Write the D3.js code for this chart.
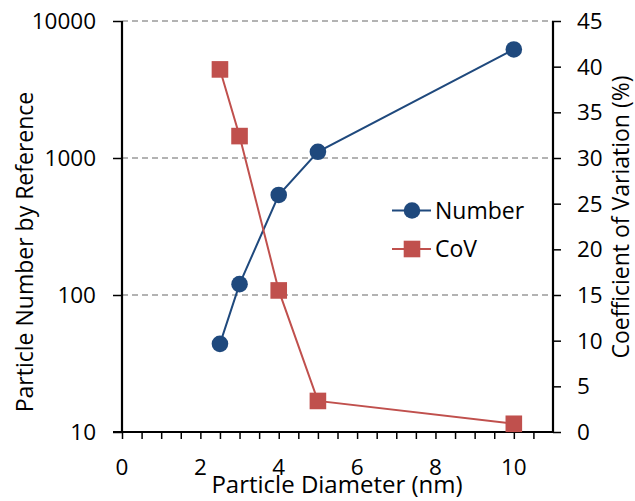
<!DOCTYPE html>
<html>
<head>
<meta charset="utf-8">
<script src="https://cdn.jsdelivr.net/npm/d3@7"></script>
<style>
  html, body { margin: 0; padding: 0; background: #fff; }
  svg { display: block; }
  text { font-family: "Open Sans", "Noto Sans", sans-serif; fill: #000; }
</style>
</head>
<body>
<svg id="chart" width="635" height="501"></svg>
<script>
// ---- data ----
const diameters = [2.5, 3, 4, 5, 10];
const numberValues = [44, 120, 537, 1110, 6200];
const covValues = [39.7, 32.4, 15.5, 3.4, 0.9];
const xTickValues = [0, 2, 4, 6, 8, 10];
const yLeftTickValues = [10, 100, 1000, 10000];
const yRightTickValues = [0, 5, 10, 15, 20, 25, 30, 35, 40, 45];
const seriesNames = ["Number", "CoV"];
const xTitle = "Particle Diameter (nm)";
const yLeftTitle = "Particle Number by Reference";
const yRightTitle = "Coefficient of Variation (%)";

(function () {
// ---- layout ----
const pLeft = 122, pRight = 553, pTop = 21, pBottom = 432;
const blue = "#1F497D", red = "#C0504D";

const svg = d3.select("#chart");
const x = d3.scaleLinear().domain([0, 11]).range([pLeft, pRight]);
const yL = d3.scaleLog().domain([10, 10000]).range([pBottom, pTop]);
const yR = d3.scaleLinear().domain([0, 45]).range([pBottom, pTop]);

// gridlines
svg.append("g").selectAll("line")
  .data(yLeftTickValues.filter(v => v > 10))
  .join("line")
  .attr("x1", pLeft).attr("x2", pRight)
  .attr("y1", d => yL(d)).attr("y2", d => yL(d))
  .attr("stroke", "#9a9a9a").attr("stroke-width", 1.5)
  .attr("stroke-dasharray", "6,4");

// x axis minor ticks
const minorX = d3.range(0, 10.51, 0.5);
const xAxis = svg.append("g").attr("transform", `translate(0,${pBottom})`)
  .call(d3.axisBottom(x).tickValues(minorX).tickSize(7).tickFormat(""));
xAxis.select(".domain").remove();
xAxis.selectAll(".tick line").attr("stroke", "#000").attr("stroke-width", 1.5);
svg.append("g").selectAll("text").data(xTickValues).join("text")
  .attr("x", d => x(d)).attr("y", 475)
  .attr("text-anchor", "middle").attr("font-size", 22.5)
  .text(d => d);

// left axis
const yLAxis = svg.append("g").attr("transform", `translate(${pLeft},0)`)
  .call(d3.axisLeft(yL).tickValues(yLeftTickValues).tickSize(9).tickFormat(""));
yLAxis.select(".domain").remove();
yLAxis.selectAll(".tick line").attr("stroke", "#000").attr("stroke-width", 1.5);
svg.append("g").selectAll("text").data(yLeftTickValues).join("text")
  .attr("x", 96).attr("y", d => yL(d)).attr("dy", "0.36em")
  .attr("text-anchor", "end").attr("font-size", 22.5)
  .text(d => d);

// right axis
const yRAxis = svg.append("g").attr("transform", `translate(${pRight},0)`)
  .call(d3.axisRight(yR).tickValues(yRightTickValues).tickSize(8).tickFormat(""));
yRAxis.select(".domain").remove();
yRAxis.selectAll(".tick line").attr("stroke", "#000").attr("stroke-width", 1.5);
svg.append("g").selectAll("text").data(yRightTickValues).join("text")
  .attr("x", 577).attr("y", d => yR(d)).attr("dy", "0.36em")
  .attr("text-anchor", "start").attr("font-size", 22.5)
  .text(d => d);

// axis lines
svg.append("line").attr("x1", pLeft).attr("x2", pLeft).attr("y1", pTop).attr("y2", pBottom)
  .attr("stroke", "#000").attr("stroke-width", 2.2);
svg.append("line").attr("x1", pRight).attr("x2", pRight).attr("y1", pTop).attr("y2", pBottom)
  .attr("stroke", "#000").attr("stroke-width", 2.2);
svg.append("line").attr("x1", pLeft - 9).attr("x2", pRight).attr("y1", pBottom).attr("y2", pBottom)
  .attr("stroke", "#000").attr("stroke-width", 2.2);

// titles
svg.append("text").attr("x", 337).attr("y", 493).attr("text-anchor", "middle")
  .attr("font-size", 24).text(xTitle);
svg.append("text").attr("transform", "translate(33,252) rotate(-90)")
  .attr("text-anchor", "middle").attr("font-size", 23).text(yLeftTitle);
svg.append("text").attr("transform", "translate(629,217) rotate(-90)")
  .attr("text-anchor", "middle").attr("font-size", 23).text(yRightTitle);

// series
const numData = diameters.map((d, i) => ({ x: d, y: numberValues[i] }));
const covData = diameters.map((d, i) => ({ x: d, y: covValues[i] }));

svg.append("path").datum(numData)
  .attr("fill", "none").attr("stroke", blue).attr("stroke-width", 2)
  .attr("d", d3.line().x(d => x(d.x)).y(d => yL(d.y)));
svg.append("g").selectAll("circle").data(numData).join("circle")
  .attr("cx", d => x(d.x)).attr("cy", d => yL(d.y)).attr("r", 8.3)
  .attr("fill", blue);

svg.append("path").datum(covData)
  .attr("fill", "none").attr("stroke", red).attr("stroke-width", 2)
  .attr("d", d3.line().x(d => x(d.x)).y(d => yR(d.y)));
svg.append("g").selectAll("rect").data(covData).join("rect")
  .attr("x", d => x(d.x) - 8.3).attr("y", d => yR(d.y) - 8.3)
  .attr("width", 16.6).attr("height", 16.6)
  .attr("fill", red);

// legend
const legendRows = [
  { name: seriesNames[0], color: blue, shape: "circle", y: 210.5 },
  { name: seriesNames[1], color: red, shape: "rect", y: 249 }
];
const lg = svg.append("g");
legendRows.forEach(r => {
  lg.append("line").attr("x1", 392).attr("x2", 431).attr("y1", r.y).attr("y2", r.y)
    .attr("stroke", r.color).attr("stroke-width", 2);
  if (r.shape === "circle") {
    lg.append("circle").attr("cx", 412).attr("cy", r.y).attr("r", 8.3).attr("fill", r.color);
  } else {
    lg.append("rect").attr("x", 412 - 8.3).attr("y", r.y - 8.3).attr("width", 16.6).attr("height", 16.6).attr("fill", r.color);
  }
  lg.append("text").attr("x", 435).attr("y", r.y).attr("dy", "0.36em")
    .attr("font-size", 23).text(r.name);
});
})();
</script>
</body>
</html>
